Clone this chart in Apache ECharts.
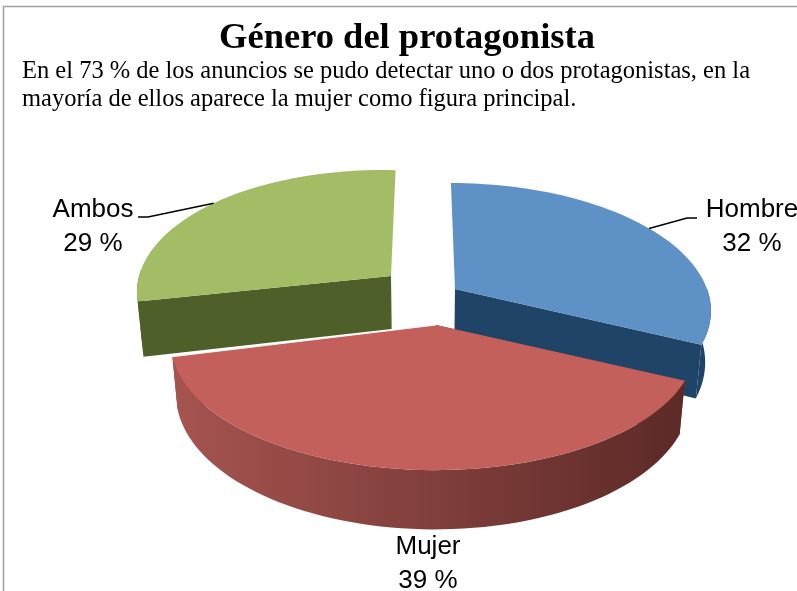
<!DOCTYPE html>
<html>
<head>
<meta charset="utf-8">
<style>
    html, body { margin: 0; padding: 0; background: #fff; }
    #main { width: 797px; height: 591px; }
</style>
<script src="https://cdn.jsdelivr.net/npm/echarts@6/dist/echarts.min.js"></script>
</head>
<body>
<div id="main"></div>
<script>
// datos
const categories = ['Hombre', 'Mujer', 'Ambos'];
const percents = [32, 39, 29];
const titleText = 'Género del protagonista';
const bodyText = 'En el 73 % de los anuncios se pudo detectar uno o dos protagonistas, en la\nmayoría de ellos aparece la mujer como figura principal.';

// estilo y posicion de cada porcion (vertice de la porcion separada, radio, inclinacion)
const sliceLayout = [
    { ax: 455, ay: 289, r: 252, shear: 0, dx: 0, depth: 50 },
    { ax: 436, ay: 325, r: 259, shear: 0, dx: -3, depth: 50 },
    { ax: 391, ay: 276, r: 250, shear: 0.024, dx: 0, depth: 53 }
];
const topColors = ['#5e91c5', '#c4605b', '#a3bd66'];
const cutColors = ['#1f4468', '#7c3a36', '#4f5f2a'];
const wallColors = [
    ['#1f4468', '#1f4468'],
    ['#a65450', '#5c2a27'],
    ['#4f5f2a', '#4f5f2a']
];
const labelLayout = [
    { x: 752, y: 209, line: [[697, 218], [687, 218]] },
    { x: 428, y: 546, line: null },
    { x: 93, y: 209, line: [[138, 217], [148, 217]] }
];

// perspectiva
const vanishX = 425;
const persp = 0.156;
const flat = 122.5;
const bottomShrink = 0.98;

function project(slice, theta, bottom) {
    const rad = theta * Math.PI / 180;
    const X = Math.sin(rad) * slice.r;
    const Y = -Math.cos(rad);
    const s = 1 / (1 - persp * Y);
    let x = vanishX + (slice.ax - vanishX) * s + X * s + slice.dx;
    let y = slice.ay + flat * Y * s + slice.shear * (x - slice.ax);
    if (bottom) {
        x = vanishX + (x - vanishX) * bottomShrink;
        y += slice.depth * s;
    }
    return [x, y];
}

function apex(slice, bottom) {
    if (!bottom) return [slice.ax, slice.ay];
    return [vanishX + (slice.ax - vanishX) * bottomShrink, slice.ay + slice.depth];
}

function arcPoints(slice, from, to, bottom) {
    const pts = [];
    const n = Math.max(2, Math.ceil(Math.abs(to - from) / 2));
    for (let i = 0; i <= n; i++) {
        pts.push(project(slice, from + (to - from) * i / n, bottom));
    }
    return pts;
}

const total = percents.reduce((a, b) => a + b, 0);
const startAngles = [];
percents.reduce((acc, v, i) => {
    startAngles[i] = acc / total * 360;
    return acc + v;
}, 0);

function renderSlice(params, api) {
    const i = api.value(1);
    const slice = sliceLayout[i];
    const start = startAngles[i];
    const end = start + api.value(0) / total * 360;
    const children = [];

    // caras del corte, las de atras no se ven
    [start, end].forEach(function (angle) {
        if (Math.cos(angle * Math.PI / 180) > 0) return;
        children.push({
            type: 'polygon',
            shape: { points: [apex(slice, false), project(slice, angle, false), project(slice, angle, true), apex(slice, true)] },
            style: { fill: cutColors[i] }
        });
    });

    // pared exterior, solo la parte que mira al frente
    const wallFrom = Math.max(start, 90);
    const wallTo = Math.min(end, 270);
    if (wallTo > wallFrom) {
        const topArc = arcPoints(slice, wallFrom, wallTo, false);
        const bottomArc = arcPoints(slice, wallFrom, wallTo, true).reverse();
        children.push({
            type: 'polygon',
            shape: { points: topArc.concat(bottomArc) },
            style: {
                fill: new echarts.graphic.LinearGradient(0, 0, 1, 0, [
                    { offset: 0, color: wallColors[i][0] },
                    { offset: 1, color: wallColors[i][1] }
                ])
            }
        });
    }

    // cara superior
    children.push({
        type: 'polygon',
        shape: { points: [apex(slice, false)].concat(arcPoints(slice, start, end, false)) },
        style: { fill: topColors[i] }
    });

    // linea blanca entre el rojo y el verde
    if (i === 1) {
        children.push({
            type: 'polyline',
            shape: { points: [apex(slice, false), project(slice, end, false)] },
            style: { stroke: '#fff', lineWidth: 1, fill: null }
        });
    }

    // guia y etiqueta
    const label = labelLayout[i];
    if (label.line) {
        const onArc = project(slice, (start + end) / 2, false);
        children.push({
            type: 'polyline',
            shape: { points: label.line.concat([onArc]) },
            style: { stroke: '#000', lineWidth: 1.5, fill: null }
        });
    }
    children.push({
        type: 'text',
        style: {
            text: categories[i] + '\n' + api.value(0) + ' %',
            x: label.x,
            y: label.y,
            align: 'center',
            verticalAlign: 'top',
            fontFamily: 'Liberation Sans',
            fontSize: 26,
            lineHeight: 34,
            fill: '#000'
        },
        y: -16
    });
    return { type: 'group', children: children };
}

const myChart = echarts.init(document.getElementById('main'));
myChart.setOption({
    animation: false,
    title: [
        {
            text: titleText,
            left: 402,
            top: 15,
            textAlign: 'center',
            textStyle: { fontFamily: 'Liberation Serif', fontWeight: 'bold', fontSize: 36.5, color: '#000' }
        },
        {
            text: bodyText,
            left: 17,
            top: 53,
            textStyle: { fontFamily: 'Liberation Serif', fontWeight: 'normal', fontSize: 24.5, lineHeight: 28, color: '#000' }
        }
    ],
    graphic: [
        {
            type: 'rect',
            shape: { x: 3.5, y: 6.5, width: 820, height: 620 },
            style: { fill: null, stroke: '#a0a0a0', lineWidth: 1.5 },
            silent: true
        }
    ],
    series: [
        {
            type: 'custom',
            coordinateSystem: 'none',
            renderItem: renderSlice,
            // se dibuja el rojo al final porque queda delante
            data: [2, 0, 1].map(i => [percents[i], i])
        }
    ]
});
</script>
</body>
</html>
